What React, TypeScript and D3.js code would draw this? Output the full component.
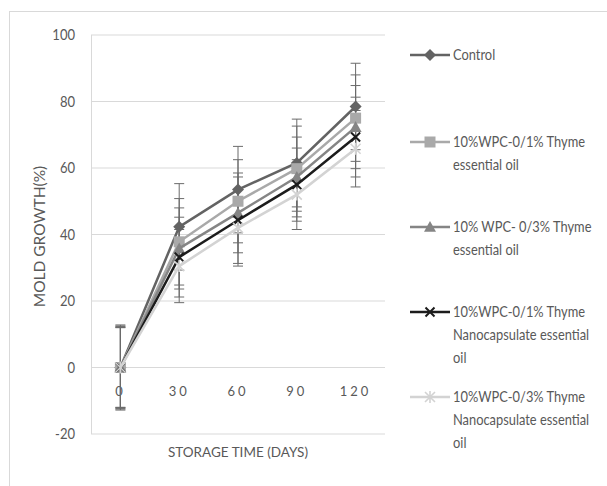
import React from "react";
import * as d3 from "d3";

const categories = ["0", "30", "60", "90", "120"];
const seriesNames = [
  ["Control"],
  ["10%WPC-0/1% Thyme", "essential oil"],
  ["10% WPC- 0/3% Thyme", "essential oil"],
  ["10%WPC-0/1% Thyme", "Nanocapsulate essential", "oil"],
  ["10%WPC-0/3% Thyme", "Nanocapsulate essential", "oil"],
];
const controlValues = [0, 42.3, 53.5, 61.5, 78.5];
const wpc1Values = [0, 37.8, 50, 59.8, 75];
const wpc3Values = [0, 35.8, 46.5, 57.3, 72.3];
const nano1Values = [0, 33.2, 44.3, 55, 69.3];
const nano3Values = [0, 30.5, 42, 52, 65.8];
const controlErr = [12.8, 13, 13, 13.2, 13];
const wpc1Err = [12.3, 13, 12.5, 12.8, 13];
const wpc3Err = [12, 12.2, 12, 12, 12.5];
const nano1Err = [12.5, 12, 13, 11, 12];
const nano3Err = [12, 11, 11.5, 10.5, 11.5];
const yTicks = [-20, 0, 20, 40, 60, 80, 100];

const colors = ["#636363", "#a9a9a9", "#858585", "#1c1c1c", "#d3d3d3"];
const markers = ["diamond", "square", "triangle", "x", "star"];
const allValues = [controlValues, wpc1Values, wpc3Values, nano1Values, nano3Values];
const allErr = [controlErr, wpc1Err, wpc3Err, nano1Err, nano3Err];

const FONT = "Lato, 'Open Sans', sans-serif";

function Marker({ type, x, y, color }: { type: string; x: number; y: number; color: string }) {
  if (type === "diamond") {
    const s = 6;
    return <path d={`M${x},${y - s}L${x + s},${y}L${x},${y + s}L${x - s},${y}Z`} fill={color} />;
  }
  if (type === "square") {
    const s = 5.5;
    return <rect x={x - s} y={y - s} width={2 * s} height={2 * s} fill={color} />;
  }
  if (type === "triangle") {
    const s = 6;
    return <path d={`M${x},${y - s}L${x + s},${y + s * 0.8}L${x - s},${y + s * 0.8}Z`} fill={color} />;
  }
  if (type === "x") {
    const s = 4.5;
    return (
      <path d={`M${x - s},${y - s}L${x + s},${y + s}M${x - s},${y + s}L${x + s},${y - s}`} stroke={color} strokeWidth={2} />
    );
  }
  const s = 5;
  return (
    <path
      d={`M${x - s},${y - s}L${x + s},${y + s}M${x - s},${y + s}L${x + s},${y - s}M${x},${y - s - 1}L${x},${y + s + 1}`}
      stroke={color}
      strokeWidth={1.6}
    />
  );
}

export default function App() {
  const W = 607, H = 486;
  const left = 91, right = 385, top = 35, bottom = 434;
  const x = d3.scaleBand().domain(categories).range([left, right]);
  const y = d3.scaleLinear().domain([-20, 100]).range([bottom, top]);
  const cx = (c: string) => (x(c) as number) + x.bandwidth() / 2;
  const line = d3
    .line<number>()
    .x((_, i) => cx(categories[i]))
    .y((v) => y(v));

  const legendTops = [55, 142, 227, 312, 397];
  const lh = 23;

  return (
    <svg width={W} height={H} style={{ position: "absolute", left: 0, top: 0, background: "#fff" }}>
      <rect x={9.5} y={11.5} width={620} height={500} fill="#fff" stroke="#d9d9d9" />
      {yTicks.map((t) => (
        <line key={t} x1={left} x2={right} y1={y(t)} y2={y(t)} stroke="#d9d9d9" strokeWidth={1} />
      ))}
      <line x1={left + 0.5} x2={left + 0.5} y1={top} y2={bottom} stroke="#d9d9d9" />
      {yTicks.map((t) => (
        <text key={t} transform={`translate(75,${y(t) + 5}) scale(0.9,1.05)`} textAnchor="end" fontFamily={FONT} fontSize={14.5} fill="#595959">
          {t}
        </text>
      ))}
      {categories.map((c) => (
        <text key={c} x={cx(c)} y={y(0) + 28} textAnchor="middle" fontFamily={FONT} fontSize={13} letterSpacing={3} fill="#595959">
          {c}
        </text>
      ))}
      <text x={238} y={457} textAnchor="middle" fontFamily={FONT} fontSize={13.5} fill="#595959">
        STORAGE TIME (DAYS)
      </text>
      <text transform={`translate(45,${y(40) + 2}) rotate(-90)`} textAnchor="middle" fontFamily={FONT} fontSize={15.5} fill="#595959">
        MOLD GROWTH(%)
      </text>
      {allValues.map((vals, si) =>
        vals.map((v, i) => {
          const px = cx(categories[i]);
          const e = allErr[si][i];
          return (
            <g key={`e${si}-${i}`} stroke="#6b6b6b" strokeWidth={1}>
              <line x1={px} x2={px} y1={y(v + e)} y2={y(v - e)} />
              <line x1={px - 5} x2={px + 5} y1={y(v + e)} y2={y(v + e)} />
              <line x1={px - 5} x2={px + 5} y1={y(v - e)} y2={y(v - e)} />
            </g>
          );
        })
      )}
      {allValues.map((vals, si) => (
        <g key={`s${si}`}>
          <path d={line(vals) as string} fill="none" stroke={colors[si]} strokeWidth={2.5} />
          {vals.map((v, i) => (
            <Marker key={i} type={markers[si]} x={cx(categories[i])} y={y(v)} color={colors[si]} />
          ))}
        </g>
      ))}
      {seriesNames.map((lines, si) => (
        <g key={`l${si}`}>
          <line x1={410} x2={450} y1={legendTops[si]} y2={legendTops[si]} stroke={colors[si]} strokeWidth={2.5} />
          <Marker type={markers[si]} x={430} y={legendTops[si]} color={colors[si]} />
          {lines.map((t, li) => (
            <text
              key={li}
              transform={`translate(453,${legendTops[si] + 5 + li * lh}) scale(0.92,1.05)`}
              fontFamily={FONT}
              fontSize={14}
              fill="#595959"
            >
              {t}
            </text>
          ))}
        </g>
      ))}
    </svg>
  );
}
